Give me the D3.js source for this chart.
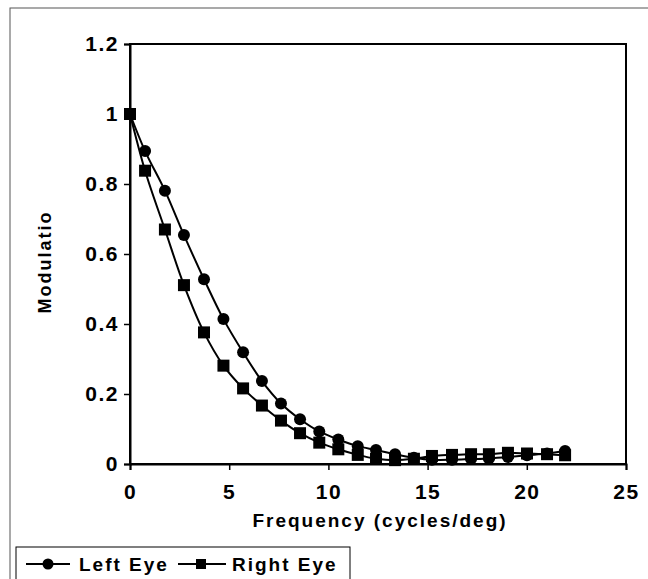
<!DOCTYPE html>
<html lang="en">
<head>
    <meta charset="utf-8">
    <script src="https://d3js.org/d3.v7.min.js"></script>
    <style>
        body { margin: 0; background: #fff; }
        text { font-family: "Liberation Sans", Arial, sans-serif; font-weight: bold; fill: #000; }
    </style>
</head>
<body>
    <svg id="chart"></svg>

    <script type="text/javascript" charset="utf-8">
        // values
        const freq = [0, 0.76, 1.76, 2.72, 3.73, 4.71, 5.70, 6.65, 7.61, 8.57, 9.54, 10.50,
                      11.48, 12.40, 13.36, 14.31, 15.22, 16.23, 17.19, 18.09, 19.05, 20.01, 21.02, 21.93];
        const leftEye = [1.0, 0.894, 0.781, 0.654, 0.528, 0.414, 0.319, 0.237, 0.173, 0.128, 0.093, 0.070,
                         0.051, 0.040, 0.028, 0.018, 0.012, 0.012, 0.014, 0.016, 0.020, 0.025, 0.030, 0.037];
        const rightEye = [1.0, 0.838, 0.670, 0.511, 0.376, 0.281, 0.216, 0.167, 0.124, 0.088, 0.061, 0.042,
                          0.026, 0.015, 0.011, 0.015, 0.023, 0.026, 0.028, 0.028, 0.032, 0.030, 0.028, 0.025];
        const xTicks = [0, 5, 10, 15, 20, 25];
        const yTicks = [0, 0.2, 0.4, 0.6, 0.8, 1, 1.2];
        const seriesNames = ["Left Eye", "Right Eye"];

        const W = 648, H = 579;
        const svg = d3.select("#chart").attr("width", W).attr("height", H);

        // outer chart frame (scanned, grey-ish)
        svg.append("rect")
            .attr("x", 10).attr("y", 8)
            .attr("width", 660).attr("height", 600)
            .attr("fill", "none").attr("stroke", "#555").attr("stroke-width", 1);

        const x = d3.scaleLinear().domain([0, 25]).range([130, 626]);
        const y = d3.scaleLinear().domain([0, 1.2]).range([464, 44]);

        // plot box
        svg.append("rect")
            .attr("x", x(0)).attr("y", y(1.2))
            .attr("width", x(25) - x(0)).attr("height", y(0) - y(1.2))
            .attr("fill", "none").attr("stroke", "#000").attr("stroke-width", 2);

        const xAxis = svg.append("g")
            .attr("transform", `translate(0,${y(0)})`)
            .call(d3.axisBottom(x).tickValues(xTicks).tickSize(6).tickPadding(14).tickFormat(d3.format("d")));
        const yAxis = svg.append("g")
            .attr("transform", `translate(${x(0)},0)`)
            .call(d3.axisLeft(y).tickValues(yTicks).tickSize(6).tickPadding(5).tickFormat(d => d3.format("")(+d.toFixed(1))));

        [xAxis, yAxis].forEach(g => {
            g.select(".domain").attr("stroke-width", 2);
            g.selectAll(".tick line").attr("stroke-width", 1.5);
            g.selectAll("text")
                .style("font-family", '"Liberation Sans", Arial, sans-serif')
                .style("font-weight", "bold")
                .style("font-size", "21px")
                .style("letter-spacing", "1.5px");
        });

        // axis titles
        svg.append("text")
            .attr("x", 380).attr("y", 527)
            .attr("text-anchor", "middle")
            .style("font-size", "19px").style("letter-spacing", "2px")
            .text("Frequency (cycles/deg)");
        svg.append("text")
            .attr("transform", "translate(51,262) rotate(-90)")
            .attr("text-anchor", "middle")
            .style("font-size", "18px").style("letter-spacing", "2px")
            .text("Modulatio");

        const line = d3.line().curve(d3.curveCatmullRom)
            .x(d => x(d[0])).y(d => y(d[1]));

        const leftPts = freq.map((f, i) => [f, leftEye[i]]);
        const rightPts = freq.map((f, i) => [f, rightEye[i]]);

        [leftPts, rightPts].forEach(pts => {
            svg.append("path").datum(pts)
                .attr("d", line)
                .attr("fill", "none").attr("stroke", "#000").attr("stroke-width", 2);
        });

        svg.selectAll(".sq").data(rightPts).enter().append("rect")
            .attr("class", "sq")
            .attr("x", d => x(d[0]) - 6).attr("y", d => y(d[1]) - 6)
            .attr("width", 12).attr("height", 12).attr("fill", "#000");
        svg.selectAll(".dot").data(leftPts).enter().append("circle")
            .attr("class", "dot")
            .attr("cx", d => x(d[0])).attr("cy", d => y(d[1]))
            .attr("r", 6).attr("fill", "#000");

        // legend
        const lg = svg.append("g");
        lg.append("rect")
            .attr("x", 16).attr("y", 547).attr("width", 334).attr("height", 50)
            .attr("fill", "#fff").attr("stroke", "#000").attr("stroke-width", 1);
        lg.append("line").attr("x1", 26).attr("x2", 70).attr("y1", 564).attr("y2", 564)
            .attr("stroke", "#000").attr("stroke-width", 2);
        lg.append("circle").attr("cx", 48).attr("cy", 564).attr("r", 5.5).attr("fill", "#000");
        lg.append("text").attr("x", 79).attr("y", 571)
            .style("font-size", "19px").style("letter-spacing", "2px").text(seriesNames[0]);
        lg.append("line").attr("x1", 178).attr("x2", 226).attr("y1", 564).attr("y2", 564)
            .attr("stroke", "#000").attr("stroke-width", 2);
        lg.append("rect").attr("x", 196).attr("y", 559).attr("width", 10).attr("height", 10).attr("fill", "#000");
        lg.append("text").attr("x", 232).attr("y", 571)
            .style("font-size", "19px").style("letter-spacing", "2px").text(seriesNames[1]);
    </script>
</body>
</html>
